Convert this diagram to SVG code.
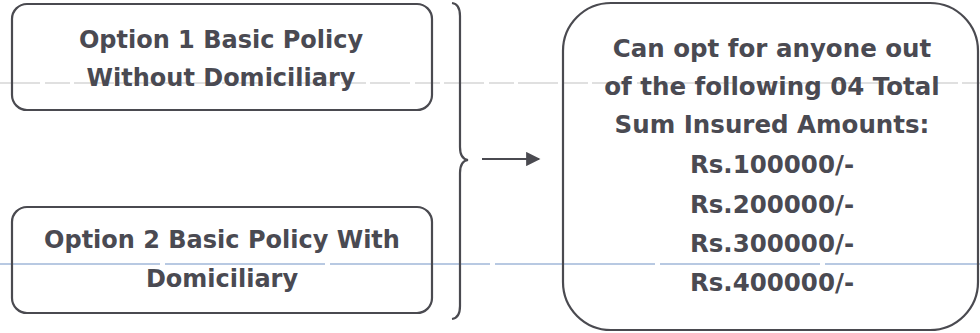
<svg xmlns="http://www.w3.org/2000/svg" width="980" height="333" viewBox="0 0 980 333">
<defs>
<style>
.box{fill:none;stroke:#4a4a50;stroke-width:2.2}
.t{font-family:"DejaVu Sans",Verdana,sans-serif;font-weight:bold;fill:#4a4a52;text-anchor:middle}
.l{font-size:24px}
.r{font-size:24.5px}
.conn{fill:none;stroke:#4a4a50;stroke-width:2.2}
</style>
<marker id="ah" viewBox="0 0 10 10" refX="9" refY="5" markerWidth="7" markerHeight="6.5" markerUnits="strokeWidth" orient="auto">
<path d="M0,0 L10,5 L0,10 z" fill="#4a4a50"/>
</marker>
</defs>
<rect width="980" height="333" fill="#ffffff"/>
<g id="scan-lines">
<line x1="0" y1="83" x2="980" y2="83" stroke="#d6d6d6" stroke-width="1.5" stroke-dasharray="40,5,25,4"/>
<line x1="0" y1="264" x2="980" y2="264" stroke="#b8c9e2" stroke-width="2.2" stroke-dasharray="160,5"/>
</g>
<g id="option1">
<rect class="box" x="12" y="4" width="420" height="106" rx="15"/>
<text class="t l" x="221" y="48">Option 1 Basic Policy</text>
<text class="t l" x="221" y="86">Without Domiciliary</text>
</g>
<g id="option2">
<rect class="box" x="12" y="207" width="420" height="106" rx="15"/>
<text class="t l" x="222" y="248">Option 2 Basic Policy With</text>
<text class="t l" x="222" y="287">Domiciliary</text>
</g>
<g id="amounts">
<rect class="box" x="563" y="3" width="415" height="327" rx="48"/>
<text class="t r" x="772" y="57">Can opt for anyone out</text>
<text class="t r" x="772" y="95">of the following 04 Total</text>
<text class="t r" x="772" y="133">Sum Insured Amounts:</text>
<text class="t r" x="772" y="173">Rs.100000/-</text>
<text class="t r" x="772" y="213">Rs.200000/-</text>
<text class="t r" x="772" y="252">Rs.300000/-</text>
<text class="t r" x="772" y="291">Rs.400000/-</text>
</g>
<g id="connectors">
<path class="conn" d="M452,3 Q460,4 460,16 L460,147 Q460,159 468,160 Q460,161 460,173 L460,306 Q460,318 452,319"/>
<line class="conn" x1="482" y1="159" x2="539" y2="159" marker-end="url(#ah)"/>
</g>
</svg>
